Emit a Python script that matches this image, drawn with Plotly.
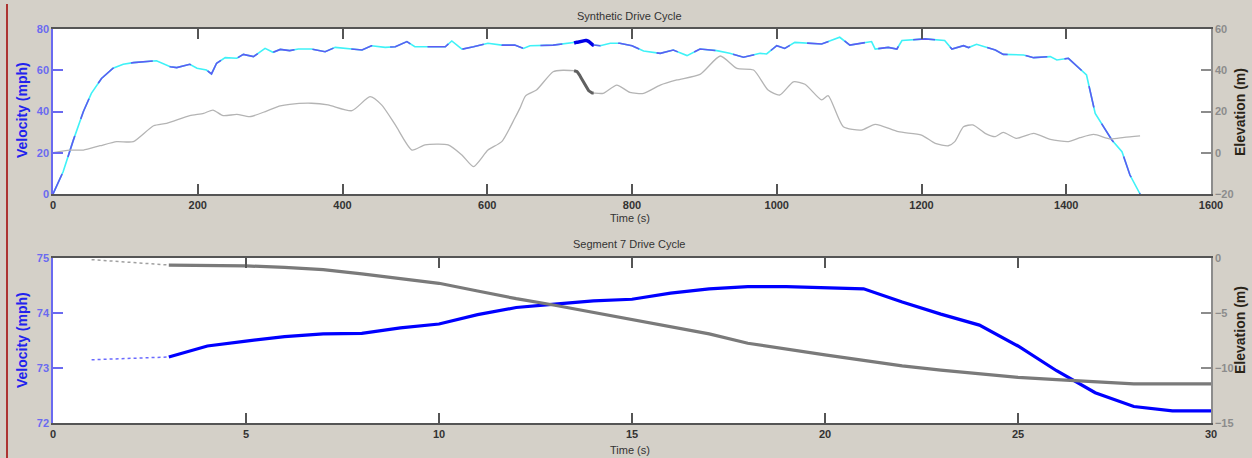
import plotly.graph_objects as go

# ---------------- data: full synthetic drive cycle (top) ----------------
cycle_time = [0, 14, 28, 42, 53, 67, 83, 97, 111, 143, 162, 171, 189, 199, 212, 219, 226, 238,
              254, 263, 277, 293, 304, 314, 327, 339, 357, 376, 390, 413, 427, 440, 459, 473,
              489, 500, 542, 551, 558, 565, 581, 601, 620, 638, 650, 659, 691, 712]
cycle_vel = [0, 10.8, 26, 40, 48.8, 56, 61, 62.9, 63.7, 64.6, 61.7, 61.3, 62.9, 61, 60.1, 58.2,
             63.4, 66.1, 65.8, 67.7, 66.6, 70.6, 68.7, 70.1, 69.5, 70.3, 70.3, 69, 71.1, 70.3,
             69.8, 71.9, 71.1, 71.4, 73.9, 71.4, 71.4, 74.2, 72.2, 70.2, 71.4, 73.1, 72.2, 72.2,
             70.6, 71.9, 72.2, 73.1]
cycle_time_after = [756, 770, 783, 800, 816, 839, 857, 876, 894, 917, 935, 954, 977, 986, 1000,
                    1011, 1025, 1062, 1087, 1101, 1131, 1136, 1154, 1166, 1173, 1205, 1232, 1242,
                    1258, 1265, 1276, 1302, 1313, 1341, 1355, 1378, 1387, 1403, 1428, 1440, 1456,
                    1463, 1477, 1488, 1502]
cycle_vel_after = [71.9, 73.1, 73.1, 71.9, 69.3, 68.2, 69.8, 67.1, 70.3, 69.5, 68.2, 66.3, 68.2,
                   67.9, 71.9, 70.6, 73.5, 72.7, 76, 72.2, 73.9, 70.3, 71.1, 70.3, 74.4, 75.2,
                   74.4, 70.3, 71.9, 71, 72.6, 69.8, 67.7, 67.4, 66.1, 66.6, 65, 65.8, 57.7, 39.1,
                   30.2, 26.2, 20.5, 9.2, 0]

elev_time = [0, 23, 42, 65, 88, 111, 139, 157, 189, 208, 221, 235, 254, 272, 295, 314, 327, 357,
             380, 413, 438, 454, 473, 496, 514, 546, 565, 581, 601, 620, 638, 645, 653, 668, 691,
             705]
elev_val = [0, 1.3, 1.3, 3.4, 5.4, 5.4, 13.1, 14.3, 18, 19.1, 20.7, 18, 18.6, 17.5, 20.2, 22.7,
            23.5, 24, 23.2, 20.4, 27.2, 23.2, 13.5, 1.3, 3.8, 3.8, -1.1, -6.7, 1.3, 5.4, 16.7,
            21.5, 27.6, 30.4, 39.3, 40.0]
elev_time_after = [760, 779, 797, 816, 839, 862, 894, 922, 945, 968, 988, 1004, 1023, 1039, 1062,
                   1071, 1092, 1117, 1136, 1168, 1200, 1219, 1237, 1246, 1258, 1271, 1288, 1302,
                   1313, 1331, 1355, 1378, 1403, 1419, 1438, 1461, 1480, 1502]
elev_val_after = [28.8, 32.8, 29.3, 28.8, 32.8, 35.3, 38, 46.9, 40.9, 40.1, 30.4, 28, 34.4, 33.2,
                  25.6, 27.7, 12.6, 11, 13.8, 10.2, 8.6, 4.6, 3.4, 5.4, 12.6, 13.5, 9.4, 7.8, 9.9,
                  7, 9.4, 6.5, 5.4, 7.3, 8.9, 6.7, 7.5, 8.2]

# ---------------- data: segment 7 (bottom) ----------------
seg_start = 717          # start time of segment 7 within the full cycle (s)
seg_elev_offset = 40.4   # elevation of segment 7 origin within the full cycle (m)
seg_time = list(range(3, 31))
seg_vel = [73.2, 73.4, 73.49, 73.57, 73.62, 73.63, 73.73, 73.8, 73.97, 74.1, 74.16, 74.22, 74.25,
           74.36, 74.44, 74.48, 74.48, 74.46, 74.44, 74.2, 73.98, 73.78, 73.4, 72.95, 72.55, 72.3,
           72.22, 72.22]
seg_elev = [-0.64, -0.66, -0.72, -0.85, -1.05, -1.45, -1.85, -2.3, -3.0, -3.7, -4.3, -4.95, -5.6,
            -6.25, -6.9, -7.75, -8.3, -8.8, -9.3, -9.8, -10.2, -10.55, -10.85, -11.05, -11.25,
            -11.45, -11.45, -11.45]
lead_time = [1, 3]
lead_vel = [73.15, 73.2]
lead_elev = [-0.15, -0.64]

top_xticks = [0, 200, 400, 600, 800, 1000, 1200, 1400, 1600]
top_vticks = [0, 20, 40, 60, 80]
top_eticks = [-20, 0, 20, 40, 60]
bot_xticks = [0, 5, 10, 15, 20, 25, 30]
bot_vticks = [72, 73, 74, 75]
bot_eticks = [-15, -10, -5, 0]

# ---------------- derived series ----------------
seg_time_abs = [seg_start + t for t in seg_time]
seg_elev_abs = [seg_elev_offset + e for e in seg_elev]
full_t = cycle_time + seg_time_abs + cycle_time_after
full_v = cycle_vel + seg_vel + cycle_vel_after
full_et = elev_time + seg_time_abs + elev_time_after
full_e = elev_val + seg_elev_abs + elev_val_after

BLUE_LT = "#5c5cf2"
CYAN = "#3ff2f7"
GRAY_LT = "#b4b4b4"
FONT = "Liberation Sans"

fig = go.Figure()
# top elevation
fig.add_trace(go.Scatter(x=full_et, y=full_e, mode="lines", yaxis="y2", xaxis="x",
                         line=dict(color=GRAY_LT, width=1.3, shape="spline", smoothing=0.6),
                         showlegend=False))
fig.add_trace(go.Scatter(x=seg_time_abs, y=seg_elev_abs, mode="lines", yaxis="y2", xaxis="x",
                         line=dict(color="#606060", width=3), showlegend=False))
# top velocity
fig.add_trace(go.Scatter(x=full_t, y=full_v, mode="lines", xaxis="x", yaxis="y",
                         line=dict(color=CYAN, width=1.6), showlegend=False))
fig.add_trace(go.Scatter(x=full_t, y=full_v, mode="lines", xaxis="x", yaxis="y",
                         line=dict(color=BLUE_LT, width=1.6, dash="22px,18px"), showlegend=False))
fig.add_trace(go.Scatter(x=seg_time_abs, y=seg_vel, mode="lines", xaxis="x", yaxis="y",
                         line=dict(color="#0000e6", width=3.5), showlegend=False))

# bottom
fig.add_trace(go.Scatter(x=lead_time, y=lead_vel, mode="lines", xaxis="x2", yaxis="y3",
                         line=dict(color="#6a6aff", width=1.5, dash="dot"), showlegend=False))
fig.add_trace(go.Scatter(x=seg_time, y=seg_vel, mode="lines", xaxis="x2", yaxis="y3",
                         line=dict(color="#0000ff", width=3.2), showlegend=False))
fig.add_trace(go.Scatter(x=lead_time, y=lead_elev, mode="lines", xaxis="x2", yaxis="y4",
                         line=dict(color="#a0a0a0", width=1.5, dash="dot"), showlegend=False))
fig.add_trace(go.Scatter(x=seg_time, y=seg_elev, mode="lines", xaxis="x2", yaxis="y4",
                         line=dict(color="#7a7a7a", width=3.2), showlegend=False))

tickf_x = dict(family=FONT, size=11, color="#333333", weight="bold")
tickf_l = dict(family=FONT, size=11, color="#6a6af0", weight="bold")
tickf_r = dict(family=FONT, size=11, color="#8c8c8c", weight="bold")

xcommon = dict(showgrid=False, zeroline=False, showline=True, linecolor="#555555", linewidth=1.5,
               mirror="ticks", ticks="inside", ticklen=10, tickcolor="#555555", tickwidth=1.5,
               tickfont=tickf_x)
lcommon = dict(showgrid=False, zeroline=False, showline=True, linecolor="#6a6af0", linewidth=1.5,
               ticks="inside", ticklen=10, tickcolor="#6a6af0", tickwidth=1.5, tickfont=tickf_l)
rcommon = dict(showgrid=False, zeroline=False, showline=True, linecolor="#8c8c8c", linewidth=1.5,
               ticks="inside", ticklen=10, tickcolor="#8c8c8c", tickwidth=1.5, tickfont=tickf_r,
               side="right")

top_dom = [0.5812, 1.0]
bot_dom = [0.0, 0.4188]

fig.update_layout(
    width=1252, height=458,
    margin=dict(l=53, r=41, t=29, b=35),
    paper_bgcolor="#d4d0c8", plot_bgcolor="#ffffff",
    xaxis=dict(xcommon, range=[0, 1600], tickvals=top_xticks, anchor="y", domain=[0, 1]),
    yaxis=dict(lcommon, range=[0, 80], tickvals=top_vticks, domain=top_dom, anchor="x"),
    yaxis2=dict(rcommon, range=[-20, 60], tickvals=top_eticks, overlaying="y", anchor="x"),
    xaxis2=dict(xcommon, range=[0, 30], tickvals=bot_xticks, anchor="y3", domain=[0, 1]),
    yaxis3=dict(lcommon, range=[72, 75], tickvals=bot_vticks, domain=bot_dom, anchor="x2"),
    yaxis4=dict(rcommon, range=[-15, 0], tickvals=bot_eticks, overlaying="y3", anchor="x2"),
)

def ann(text, x, y, size=11, color="#333333", angle=0, bold=False):
    fig.add_annotation(text=text, x=x, y=y, xref="paper", yref="paper", showarrow=False,
                       textangle=angle, xanchor="center", yanchor="middle",
                       font=dict(family=FONT, size=size, color=color,
                                 weight="bold" if bold else "normal"))

ann("Synthetic Drive Cycle", 0.498, (423 - 16) / 394)
ann("Time (s)", 0.498, (423 - 218) / 394)
ann("Segment 7 Drive Cycle", 0.498, (423 - 244) / 394)
ann("Time (s)", 0.498, (423 - 450) / 394)
ann("Velocity (mph)", (22 - 53) / 1158, (423 - 110) / 394, size=14, color="#2222ee", angle=-90, bold=True)
ann("Velocity (mph)", (22 - 53) / 1158, (423 - 340) / 394, size=14, color="#2222ee", angle=-90, bold=True)
ann("Elevation (m)", (1240 - 53) / 1158, (423 - 112) / 394, size=14, color="#2a2418", angle=-90, bold=True)
ann("Elevation (m)", (1240 - 53) / 1158, (423 - 330) / 394, size=14, color="#2a2418", angle=-90, bold=True)

# window frame edge
fig.add_shape(type="line", xref="paper", yref="paper", x0=(7 - 53) / 1158, x1=(7 - 53) / 1158,
              y0=(423 - 458) / 394, y1=(423 - 4) / 394, line=dict(color="#a00000", width=1.5))

fig.write_html("out.html", config={"displayModeBar": False},
               post_script="document.body.style.margin='0';document.body.style.overflow='hidden';")
